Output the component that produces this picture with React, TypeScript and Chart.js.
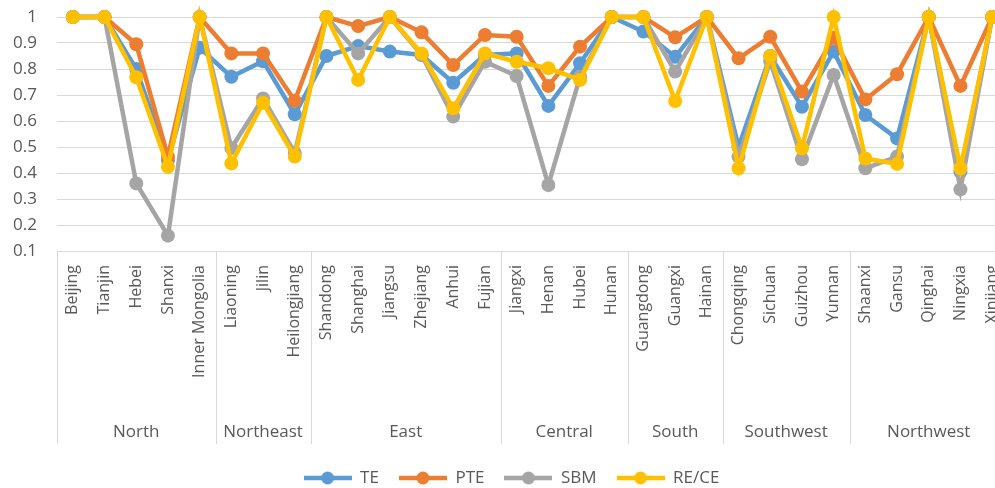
import React, { useEffect, useRef } from "react";
import { Chart, registerables } from "chart.js";

Chart.register(...registerables);

const provinces = [
  "Beijing", "Tianjin", "Hebei", "Shanxi", "Inner Mongolia",
  "Liaoning", "Jilin", "Heilongjiang",
  "Shandong", "Shanghai", "Jiangsu", "Zhejiang", "Anhui", "Fujian",
  "Jiangxi", "Henan", "Hubei", "Hunan",
  "Guangdong", "Guangxi", "Hainan",
  "Chongqing", "Sichuan", "Guizhou", "Yunnan",
  "Shaanxi", "Gansu", "Qinghai", "Ningxia", "Xinjiang",
];

const regions = ["North", "Northeast", "East", "Central", "South", "Southwest", "Northwest"];
const regionCounts = [5, 3, 6, 4, 3, 4, 5];

const TE = [1, 1, 0.8, 0.45, 0.882, 0.77, 0.83, 0.626, 0.85, 0.888, 0.867, 0.854, 0.747, 0.854, 0.86, 0.658, 0.822, 1, 0.944, 0.847, 1, 0.5, 0.85, 0.655, 0.867, 0.623, 0.533, 1, 0.405, 1];
const PTE = [1, 1, 0.895, 0.463, 1, 0.86, 0.86, 0.678, 1, 0.965, 1, 0.941, 0.815, 0.931, 0.924, 0.735, 0.886, 1, 1, 0.922, 1, 0.841, 0.924, 0.713, 0.92, 0.683, 0.78, 1, 0.735, 1];
const SBM = [1, 1, 0.36, 0.159, 1, 0.496, 0.687, 0.477, 1, 0.86, 1, 0.855, 0.617, 0.828, 0.773, 0.354, 0.77, 1, 1, 0.79, 1, 0.463, 0.83, 0.453, 0.777, 0.418, 0.463, 1, 0.337, 1];
const RECE = [1, 1, 0.768, 0.424, 1, 0.437, 0.67, 0.463, 1, 0.758, 1, 0.86, 0.649, 0.86, 0.828, 0.803, 0.758, 1, 1, 0.677, 1, 0.418, 0.85, 0.495, 1, 0.456, 0.435, 1, 0.418, 1];

const seriesNames = ["TE", "PTE", "SBM", "RE/CE"];
const seriesColors = ["#5B9BD5", "#ED7D31", "#A5A5A5", "#FFC000"];
const seriesData = [TE, PTE, SBM, RECE];

const FONT = "'Open Sans', 'Noto Sans', sans-serif";
const TEXT = "#595959";
const GRID = "#d9d9d9";

function legendMarker(color: string): HTMLCanvasElement {
  const c = document.createElement("canvas");
  c.width = 48;
  c.height = 16;
  const g = c.getContext("2d")!;
  g.strokeStyle = color;
  g.lineWidth = 4.5;
  g.beginPath();
  g.moveTo(0, 8);
  g.lineTo(48, 8);
  g.stroke();
  g.fillStyle = color;
  g.beginPath();
  g.arc(24, 8, 6.5, 0, Math.PI * 2);
  g.fill();
  return c;
}

const groupPlugin = {
  id: "groupLabels",
  afterDraw(chart: any) {
    const xs = chart.scales.x;
    const area = chart.chartArea;
    const ctx = chart.ctx;
    const step = xs.getPixelForValue(1) - xs.getPixelForValue(0);
    ctx.save();
    ctx.strokeStyle = GRID;
    ctx.lineWidth = 1;
    ctx.fillStyle = TEXT;
    ctx.font = `17px ${FONT}`;
    ctx.textAlign = "center";
    ctx.textBaseline = "middle";
    let start = 0;
    for (let g = 0; g < regions.length; g++) {
      const end = start + regionCounts[g] - 1;
      const left = xs.getPixelForValue(start) - step / 2;
      const right = xs.getPixelForValue(end) + step / 2;
      for (const xx of [left, right]) {
        ctx.beginPath();
        ctx.moveTo(Math.round(xx) + 0.5, area.bottom);
        ctx.lineTo(Math.round(xx) + 0.5, area.bottom + 193);
        ctx.stroke();
      }
      ctx.fillText(regions[g], (left + right) / 2, area.bottom + 181);
      start = end + 1;
    }
    ctx.restore();
  },
};

export default function App() {
  const ref = useRef<HTMLCanvasElement>(null);
  useEffect(() => {
    const canvas = ref.current!;
    const markers = seriesColors.map(legendMarker);
    const chart = new Chart(canvas, {
      type: "line",
      data: {
        labels: provinces,
        datasets: seriesNames.map((name, i) => ({
          label: name,
          data: seriesData[i],
          borderColor: seriesColors[i],
          backgroundColor: seriesColors[i],
          borderWidth: 4.5,
          pointRadius: 7,
          pointBorderWidth: 0,
          pointBackgroundColor: seriesColors[i],
          tension: 0,
          clip: false as any,
          order: seriesNames.length - 1 - i,
        })),
      },
      options: {
        responsive: false,
        animation: false,
        layout: { padding: { left: 10, right: 2, top: 17, bottom: 3.5 } },
        plugins: {
          tooltip: { enabled: false },
          legend: {
            position: "bottom",
            labels: {
              usePointStyle: true,
              pointStyleWidth: 48,
              padding: 20,
              color: TEXT,
              font: { family: FONT, size: 17 },
              sort: (a: any, b: any) => a.datasetIndex - b.datasetIndex,
              generateLabels: (chart: any) => {
                const items = Chart.defaults.plugins.legend.labels.generateLabels(chart);
                return items.map((it: any) => ({ ...it, pointStyle: markers[it.datasetIndex] }));
              },
            },
          },
        },
        scales: {
          x: {
            offset: true,
            grid: { display: false, drawTicks: false },
            border: { display: true, color: GRID, width: 1 },
            ticks: {
              autoSkip: false,
              minRotation: 90,
              maxRotation: 90,
              padding: 14,
              color: TEXT,
              font: { family: FONT, size: 16 },
            },
            afterFit: (scale: any) => {
              scale.height = 198.5;
              scale.paddingLeft = 0;
              scale.paddingRight = 0;
            },
          },
          y: {
            min: 0.1,
            max: 1,
            grid: { color: GRID, lineWidth: 1, drawTicks: false },
            border: { display: false },
            ticks: {
              stepSize: 0.1,
              padding: 20,
              color: TEXT,
              font: { family: FONT, size: 17 },
              callback: (v: any) => String(Number(Number(v).toFixed(1))),
            },
            afterFit: (scale: any) => {
              scale.width = 47;
              scale.paddingTop = 0;
              scale.paddingBottom = 0;
            },
          },
        },
      },
      plugins: [groupPlugin],
    });
    return () => chart.destroy();
  }, []);
  return (
    <div style={{ position: "fixed", left: 0, top: 0, width: 995, height: 488, overflow: "hidden", background: "#fff" }}>
      <canvas ref={ref} width={1015} height={500} style={{ display: "block", width: 1015, height: 500 }} />
    </div>
  );
}
